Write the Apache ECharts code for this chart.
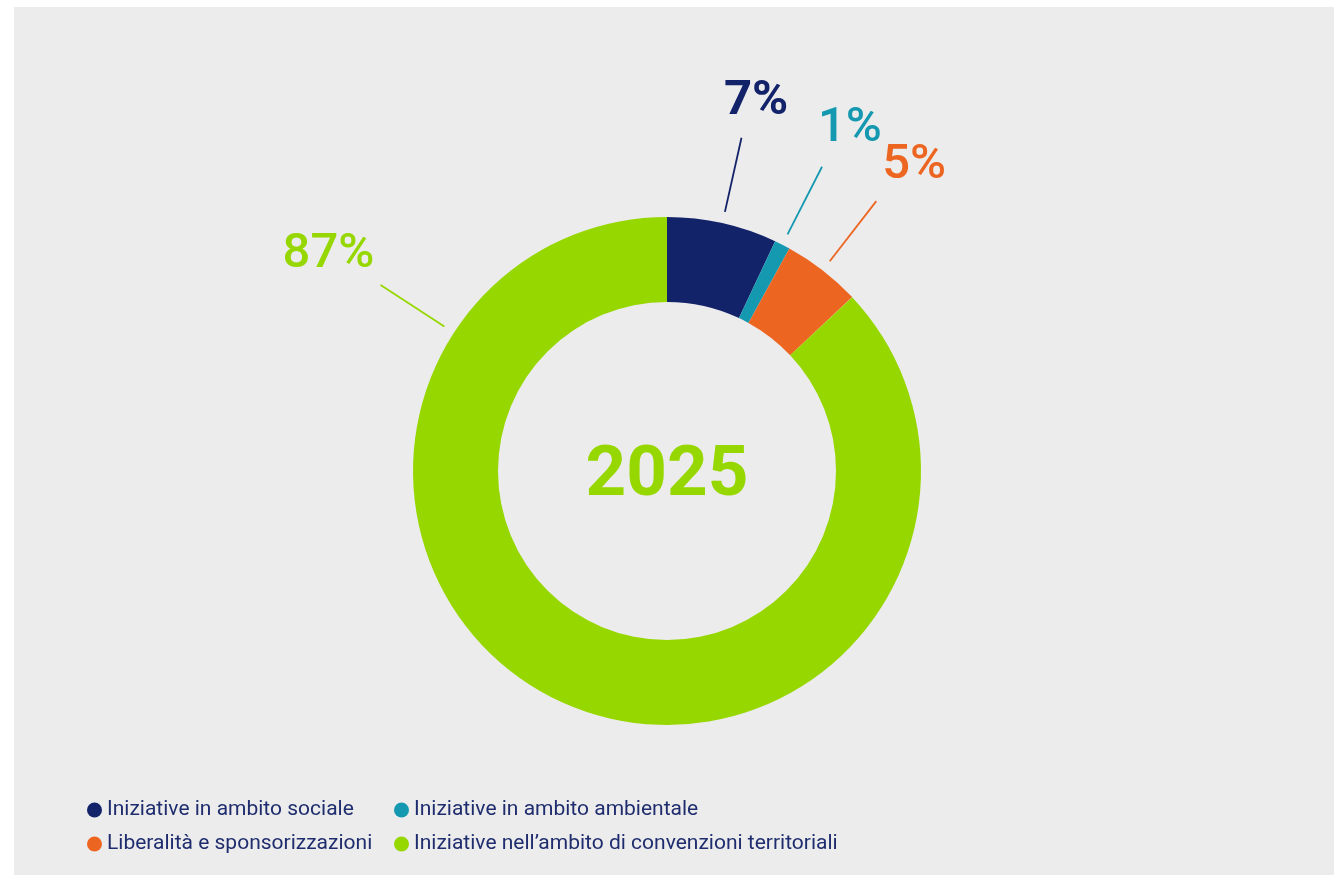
<!DOCTYPE html>
<html>
<head>
<meta charset="utf-8">
<title>2025</title>
<script src="https://cdn.jsdelivr.net/npm/echarts@6/dist/echarts.min.js"></script>
<style>
  html, body { margin: 0; padding: 0; background: #ffffff; }
  #panel { position: absolute; left: 14px; top: 7px; width: 1320px; height: 868px; background: #ececec; }
  #chart { position: absolute; left: 0; top: 0; width: 1341px; height: 875px; }
</style>
</head>
<body>
<div id="panel"></div>
<div id="chart"></div>
<script>
// Categories and their shares (%) of the total
const categories = [
  'Iniziative in ambito sociale',
  'Iniziative in ambito ambientale',
  'Liberalità e sponsorizzazioni',
  'Iniziative nell\u2019ambito di convenzioni territoriali'
];
const shares = [7, 1, 5, 87];
const yearLabel = '2025';

// Styling
const colors = ['#13236a', '#1499b0', '#ec6521', '#97d700'];
const labelWeights = [700, 500, 500, 500];
const FONT = 'Roboto, "Noto Sans", sans-serif';

// Ring geometry (px)
const CX = 667, CY = 471;
const R_IN = 169, R_OUT = 254;
// Leader lines start a little away from the ring and run radially outwards
const LINE_START = 265.5, LINE_END = 341.5, TEXT_GAP = 20;
const LABEL_FONT = 49;
// Digits sit slightly below the middle of the em box
const LABEL_NUDGE = [5, 7];
const YEAR_FONT = 71;
// The large slice's label sits at the upper left instead of at its mid angle
const angleOverride = { 3: -57 };

const total = shares.reduce((a, b) => a + b, 0);

// Mid angle of slice i, degrees clockwise from 12 o'clock
function midAngle(i) {
  let before = 0;
  for (let k = 0; k < i; k++) before += shares[k];
  return (before + shares[i] / 2) / total * 360;
}

const chart = echarts.init(document.getElementById('chart'), null, { renderer: 'canvas' });

chart.setOption({
  animation: false,
  backgroundColor: 'transparent',
  title: {
    text: yearLabel,
    left: CX,
    top: CY + 6,
    textAlign: 'center',
    textVerticalAlign: 'middle',
    padding: 0,
    textStyle: { fontFamily: FONT, fontSize: YEAR_FONT, fontWeight: 'bold', color: '#97d700' }
  },
  legend: {
    data: categories,
    icon: 'circle',
    itemWidth: 15,
    itemHeight: 15,
    itemGap: 5,
    left: 87,
    top: 795.5,
    width: 850,
    padding: 0,
    selectedMode: false,
    textStyle: {
      fontFamily: FONT,
      fontSize: 21,
      color: '#1f2d6e',
      width: 282,
      lineHeight: 29
    }
  },
  series: [{
    type: 'pie',
    center: [CX, CY],
    radius: [R_IN, R_OUT],
    startAngle: 90,
    clockwise: true,
    avoidLabelOverlap: false,
    silent: true,
    emphasis: { disabled: true },
    label: {
      show: true,
      position: 'outside',
      formatter: '{c}%',
      fontFamily: FONT,
      fontSize: LABEL_FONT
    },
    labelLine: {
      show: true,
      length: 20,
      length2: 0,
      lineStyle: { width: 1.8 }
    },
    labelLayout: function (params) {
      const i = params.dataIndex;
      const a = (angleOverride[i] != null ? angleOverride[i] : midAngle(i)) * Math.PI / 180;
      const ux = Math.sin(a), uy = -Math.cos(a);
      const p1 = [CX + ux * LINE_START, CY + uy * LINE_START];
      const p2 = [CX + ux * LINE_END, CY + uy * LINE_END];
      const capH = LABEL_FONT * 0.72;
      const off = TEXT_GAP + Math.abs(ux) * params.labelRect.width / 2 + Math.abs(uy) * capH / 2;
      return {
        x: p2[0] + ux * off + LABEL_NUDGE[0],
        y: p2[1] + uy * off + LABEL_NUDGE[1],
        align: 'center',
        verticalAlign: 'middle',
        labelLinePoints: [p1, p2]
      };
    },
    data: categories.map((name, i) => ({
      name: name,
      value: shares[i],
      itemStyle: { color: colors[i] },
      label: { color: colors[i], fontWeight: labelWeights[i] },
      labelLine: { lineStyle: { color: colors[i] } }
    }))
  }]
});
</script>
</body>
</html>
